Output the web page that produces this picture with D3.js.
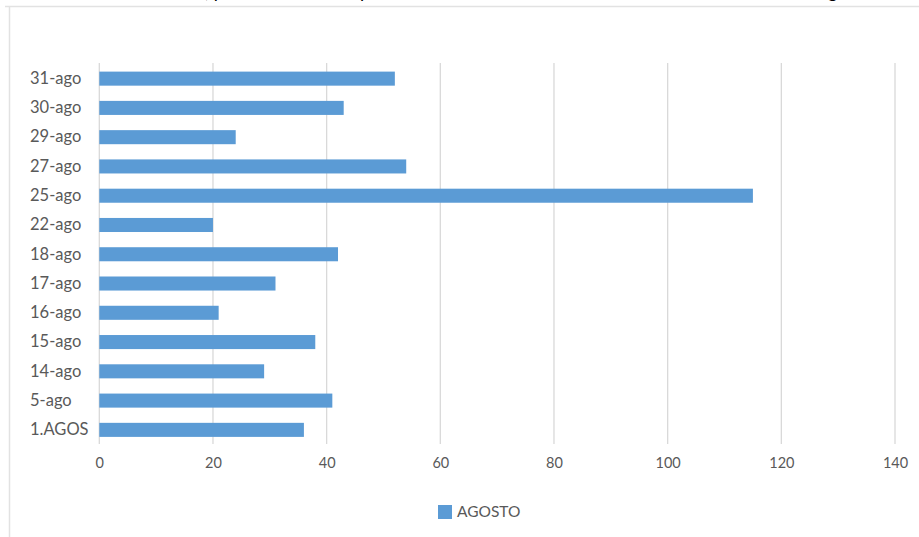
<!DOCTYPE html>
<html><head><meta charset="utf-8">
<script src="https://cdn.jsdelivr.net/npm/d3@7"></script>
<style>body{margin:0;background:#fff;}svg{display:block;}</style>
</head><body>
<script>
const categories = ["31-ago","30-ago","29-ago","27-ago","25-ago","22-ago","18-ago","17-ago","16-ago","15-ago","14-ago","5-ago","1.AGOS"];
const values = [52,43,24,54,115,20,42,31,21,38,29,41,36];
const xTicks = [0,20,40,60,80,100,120,140];
const seriesName = "AGOSTO";
const topFragments = [{t:", p", x:205},{t:"p", x:360},{t:"g", x:828}];

const W = 919, H = 537;
const svg = d3.select("body").append("svg").attr("width", W).attr("height", H);
const font = "Lato, 'Open Sans', sans-serif";

// cropped text at top (only descenders visible, as in the source image)
svg.selectAll("text.frag").data(topFragments).enter().append("text")
  .attr("class","frag").attr("x", d=>d.x).attr("y", -2)
  .attr("font-family", font).attr("font-size", 18).attr("fill", "#000").text(d=>d.t);

// frame
svg.append("line").attr("x1",5).attr("x2",W).attr("y1",6.5).attr("y2",6.5).attr("stroke","#e2e2e2").attr("stroke-width",1.5);
svg.append("line").attr("x1",9.5).attr("x2",9.5).attr("y1",6).attr("y2",H).attr("stroke","#e2e2e2").attr("stroke-width",1.5);

const x = d3.scaleLinear().domain([0,140]).range([99.3, 895]);
const y = d3.scaleBand().domain(categories).range([64, 444.5]).paddingInner(0.52).paddingOuter(0.26);

// gridlines
svg.append("g").selectAll("line").data(xTicks).enter().append("line")
  .attr("x1", d=>x(d)).attr("x2", d=>x(d)).attr("y1", 63).attr("y2", 444)
  .attr("stroke", "#d9d9d9").attr("stroke-width", 1.3);

// bars
svg.append("g").selectAll("rect").data(values).enter().append("rect")
  .attr("x", x(0)).attr("y", (d,i)=>y(categories[i]))
  .attr("width", d=>x(d)-x(0)).attr("height", y.bandwidth())
  .attr("fill", "#5b9bd5");

// x axis labels
const xAxis = d3.axisBottom(x).tickValues(xTicks).tickSize(0).tickPadding(0);
const gx = svg.append("g").attr("transform","translate(0,458)").call(xAxis);
gx.select(".domain").remove();
gx.selectAll("text").attr("font-family", font).attr("font-size", 14.5).attr("fill","#595959");

// y axis labels
const yAxis = d3.axisLeft(y).tickSize(0).tickPadding(0);
const gy = svg.append("g").attr("transform","translate(30,0)").call(yAxis);
gy.select(".domain").remove();
gy.selectAll("text").attr("text-anchor","start").attr("x",0)
  .attr("font-family", font).attr("font-size", 16.5).attr("fill","#595959");

// legend
const lg = svg.append("g").attr("transform","translate(438,505)");
lg.append("rect").attr("width",14).attr("height",14).attr("fill","#5b9bd5");
lg.append("text").attr("x",19).attr("y",7).attr("dy","0.35em")
  .attr("font-family", font).attr("font-size", 15.5).attr("fill","#595959").text(seriesName);
</script>
</body></html>
